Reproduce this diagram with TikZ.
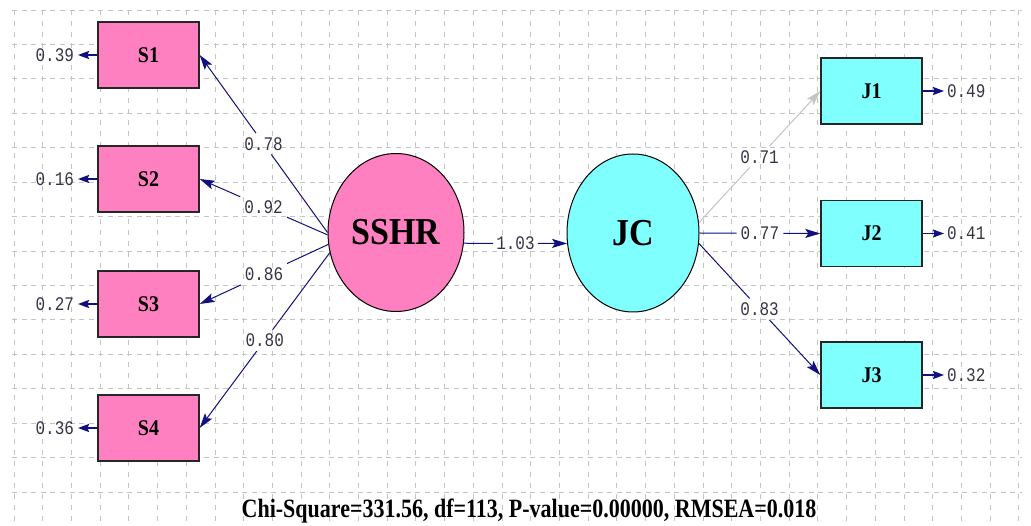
\documentclass[tikz,border=0pt]{standalone}
\usepackage{fontspec}
\setmainfont{Liberation Serif}
\setmonofont{Liberation Mono}
\usetikzlibrary{arrows.meta,shapes.geometric}

\definecolor{pinkfill}{RGB}{255,128,192}
\definecolor{cyanfill}{RGB}{128,255,255}
\definecolor{pathblue}{RGB}{16,16,128}
\definecolor{gridgray}{RGB}{196,196,196}
\definecolor{numtext}{RGB}{58,50,70}
\definecolor{fixedpath}{RGB}{196,196,196}

% slightly tall lettering for the labels
\newcommand{\tallbf}[2][1.12]{\scalebox{1}[#1]{#2}}

\begin{document}
\begin{tikzpicture}[x=1pt,y=-1pt,
  gridv/.style={gridgray, line width=0.9pt, dash pattern=on 5pt off 6pt},
  gridh/.style={gridgray, line width=0.9pt, dash pattern=on 5pt off 4.6pt},
  sbox/.style={draw=black!85, line width=1.4pt, fill=pinkfill,
    minimum width=101pt, minimum height=66pt, inner sep=0pt,
    font=\bfseries\fontsize{20}{20}\selectfont},
  jbox/.style={sbox, fill=cyanfill},
  latent/.style={ellipse, draw=black, line width=1pt, inner sep=0pt,
    minimum width=136pt, minimum height=158pt,
    font=\bfseries\fontsize{34}{34}\selectfont},
  coef/.style={font=\ttfamily\fontsize{16}{16}\selectfont, text=numtext,
    inner sep=4pt},
  errl/.style={font=\ttfamily\fontsize{16}{16}\selectfont, text=numtext,
    inner xsep=4pt, inner ysep=0pt, outer sep=0pt, anchor=east},
  errr/.style={errl, anchor=west, inner xsep=3pt},
  load/.style={pathblue, line width=1pt},
  loadarrow/.style={load, -{Stealth[length=15pt, width=9pt, inset=3pt]}},
  fixedarrow/.style={fixedpath, line width=1pt,
    -{Stealth[length=15pt, width=9pt, inset=3pt]}},
  errarrow/.style={pathblue, line width=1.6pt,
    -{Stealth[length=11pt, width=8pt, inset=1.5pt]}}
]
\useasboundingbox (0,0) rectangle (1031,526);
\fill[white] (0,0) rectangle (1031,526);

% background grid
\foreach \i in {0,...,35}
  \draw[gridv] ({14+28.71*\i},10) -- ({14+28.71*\i},526);
\foreach \j in {0,...,14}
  \draw[gridh] (12,{10+34.43*\j}) -- (1022,{10+34.43*\j});

% observed variables
\node[sbox] (S1) at (148.5,55) {\tallbf{S1}};
\node[sbox] (S2) at (148.5,179) {\tallbf{S2}};
\node[sbox] (S3) at (148.5,304) {\tallbf{S3}};
\node[sbox] (S4) at (148.5,428) {\tallbf{S4}};
\node[jbox] (J1) at (871.5,91) {\tallbf{J1}};
\node[jbox] (J2) at (871.5,233.5) {\tallbf{J2}};
\node[jbox] (J3) at (871.5,375) {\tallbf{J3}};

% latent variables
\node[latent, fill=pinkfill] (SSHR) at (396,232.5) {\tallbf{SSHR}};
\node[latent, fill=cyanfill, minimum width=132pt] (JC) at (633,233) {\tallbf{JC}};

% error variances
\node[errl] (e1) at (78,55) {\tallbf[1.2]{0.39}};
\node[errl] (e2) at (78,179) {\tallbf[1.2]{0.16}};
\node[errl] (e3) at (78,304) {\tallbf[1.2]{0.27}};
\node[errl] (e4) at (78,428) {\tallbf[1.2]{0.36}};
\node[errr] (f1) at (944,91) {\tallbf[1.2]{0.49}};
\node[errr] (f2) at (944,233.5) {\tallbf[1.2]{0.41}};
\node[errr] (f3) at (944,375) {\tallbf[1.2]{0.32}};
\foreach \b/\e in {S1/e1,S2/e2,S3/e3,S4/e4}
  \draw[errarrow] (\b.west) -- (\e.east);
\foreach \b/\e in {J1/f1,J2/f2,J3/f3}
  \draw[errarrow] (\b.east) -- (\e.west);

% loadings of SSHR
\path (SSHR.180) -- node[coef] (l1) {\tallbf[1.2]{0.78}} (S1.east);
\path (SSHR.182) -- node[coef] (l2) {\tallbf[1.2]{0.92}} (S2.east);
\path (SSHR.190) -- node[coef] (l3) {\tallbf[1.2]{0.86}} (S3.east);
\path (SSHR.197) -- node[coef] (l4) {\tallbf[1.2]{0.80}} (S4.east);
\foreach \l/\b/\a in {l1/S1/180,l2/S2/182,l3/S3/190,l4/S4/197} {
  \draw[load] (SSHR.\a) -- (\l);
  \draw[loadarrow] (\l) -- (\b.east);
}

% structural path
\path (SSHR.-9) -- node[coef, inner xsep=3pt] (g) {\tallbf[1.2]{1.03}} (JC.189);
\draw[load] (SSHR.-9) -- (g);
\draw[loadarrow] (g) -- (JC.189);

% loadings of JC
\path (JC.9) -- node[coef] (m1) {\tallbf[1.2]{0.71}} (J1.west);
\path (JC.0) -- node[coef] (m2) {\tallbf[1.2]{0.77}} (J2.west);
\path (JC.-9) -- node[coef] (m3) {\tallbf[1.2]{0.83}} (J3.west);
\draw[fixedpath, line width=1pt] (JC.9) -- (m1);
\draw[fixedarrow] (m1) -- (J1.west);
\draw[load] (JC.0) -- (m2);
\draw[loadarrow] (m2) -- (J2.west);
\draw[load] (JC.-9) -- (m3);
\draw[loadarrow] (m3) -- (J3.west);

% fit statistics
\node[anchor=base, inner sep=0pt, font=\bfseries\fontsize{22}{22}\selectfont]
  (fit) at (529,517)
  {\tallbf[1.2]{Chi-Square=331.56, df=113, P-value=0.00000, RMSEA=0.018}};
\end{tikzpicture}
\end{document}
